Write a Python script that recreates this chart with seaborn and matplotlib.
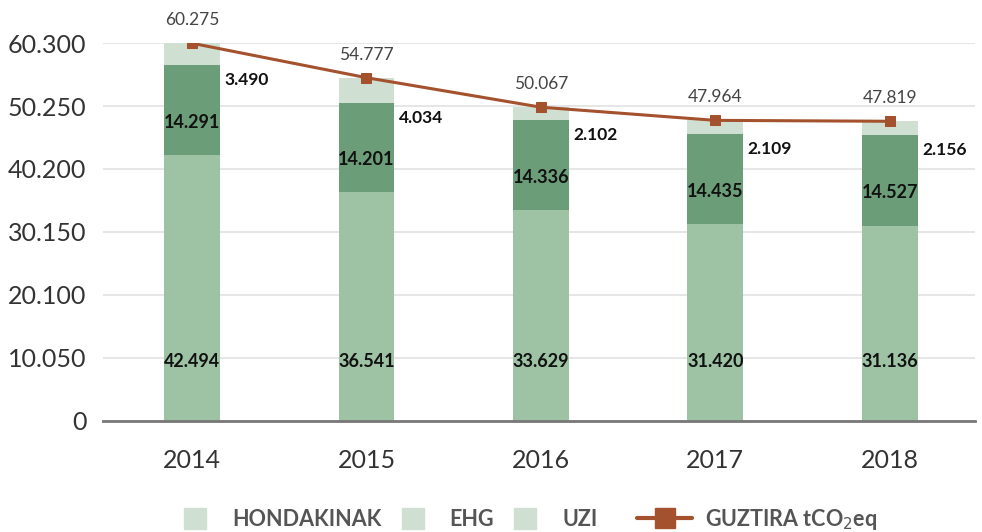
import numpy as np
import pandas as pd
import matplotlib
matplotlib.use("Agg")
import matplotlib.pyplot as plt
import seaborn as sns
from matplotlib.patches import Patch, Rectangle
from matplotlib.lines import Line2D
from matplotlib.legend_handler import HandlerPatch

years = ["2014", "2015", "2016", "2017", "2018"]
hondakinak = [42494, 36541, 33629, 31420, 31136]
ehg = [14291, 14201, 14336, 14435, 14527]
uzi = [3490, 4034, 2102, 2109, 2156]
guztira = [60275, 54777, 50067, 47964, 47819]
yticks = [0, 10050, 20100, 30150, 40200, 50250, 60300]
ytick_labels = ["0", "10.050", "20.100", "30.150", "40.200", "50.250", "60.300"]

c_hond = "#9dc2a4"
c_ehg = "#6b9e78"
c_uzi = "#cfe0d3"
c_line = "#a4512e"

sns.set_theme(style="white")
plt.rcParams["font.family"] = ["Lato", "DejaVu Sans"]

fig = plt.figure(figsize=(9.82, 5.32), dpi=100)
ax = fig.add_axes([0.105, 0.209, 0.888, 0.71])

df = pd.DataFrame({"year": years, "h": hondakinak, "e": ehg, "u": uzi})
df["he"] = df["h"] + df["e"]
df["heu"] = df["he"] + df["u"]

bw = 0.32
for col, c in [("heu", c_uzi), ("he", c_ehg), ("h", c_hond)]:
    sns.barplot(data=df, x="year", y=col, color=c, width=bw, saturation=1, ax=ax,
                zorder=2, linewidth=0, edgecolor="none")

xpos = np.arange(len(years))
sns.lineplot(x=xpos, y=guztira, color=c_line, lw=2.2, marker="s", markersize=7,
             markeredgecolor=c_line, ax=ax, zorder=4)

def fmt(v):
    return f"{v:,}".replace(",", ".")

for i in range(len(years)):
    ax.text(i, 9400, fmt(hondakinak[i]), ha="center", va="center",
            fontsize=13, fontweight="bold", color="#111111", zorder=5)
    ax.text(i, hondakinak[i] + ehg[i] / 2 - 2000, fmt(ehg[i]), ha="center", va="center",
            fontsize=13, fontweight="bold", color="#111111", zorder=5)
    ax.text(i + bw / 2 + 0.025, hondakinak[i] + ehg[i] - 2400, fmt(uzi[i]), ha="left",
            va="center", fontsize=12.5, fontweight="bold", color="#111111", zorder=5)
    ax.text(i, guztira[i] + 3700, fmt(guztira[i]), ha="center", va="center",
            fontsize=12.5, color="#444444", zorder=5)

ax.set_xlim(-0.51, 4.49)
ax.set_ylim(0, 60300)
ax.set_yticks(yticks)
ax.set_yticklabels(ytick_labels)
ax.tick_params(axis="both", labelsize=18, colors="#333333", length=0)
ax.tick_params(axis="y", pad=12)
ax.tick_params(axis="x", pad=20)
ax.set_xlabel("")
ax.set_ylabel("")
ax.grid(axis="y", color="#e2e2e2", lw=1.2, zorder=0)
ax.set_axisbelow(True)
for s in ["top", "right", "left"]:
    ax.spines[s].set_visible(False)
ax.spines["bottom"].set_color("#777777")
ax.spines["bottom"].set_linewidth(2)


def full_rect(legend, orig_handle, xdescent, ydescent, width, height, fontsize):
    return Rectangle((-xdescent, height / 2 - 7.6 - ydescent), width, 15.2)


fs = 15.5
legy = 1 - 519.5 / 532
patch_handles = [Patch(color=c_uzi, label="HONDAKINAK"),
                 Patch(color=c_uzi, label="EHG"),
                 Patch(color=c_uzi, label="UZI")]
leg1 = fig.legend(handles=patch_handles, loc="center left",
                  bbox_to_anchor=(184 / 982, legy), ncol=3, frameon=False,
                  handlelength=1.02, handletextpad=1.2, columnspacing=0.95,
                  borderpad=0, borderaxespad=0,
                  prop={"size": fs, "weight": "bold"},
                  handler_map={Patch: HandlerPatch(patch_func=full_rect)})
for t in leg1.get_texts():
    t.set_color("#555555")

line_handle = [Line2D([0], [0], color=c_line, lw=3, marker="s", markersize=14,
                      label="GUZTIRA tCO$_2$eq")]
leg2 = fig.legend(handles=line_handle, loc="center left",
                  bbox_to_anchor=(637 / 982, legy), frameon=False,
                  handlelength=2.56, handletextpad=0.6, borderpad=0, borderaxespad=0,
                  prop={"size": fs, "weight": "bold"})
for t in leg2.get_texts():
    t.set_color("#555555")

fig.savefig("out.png", dpi=100)
